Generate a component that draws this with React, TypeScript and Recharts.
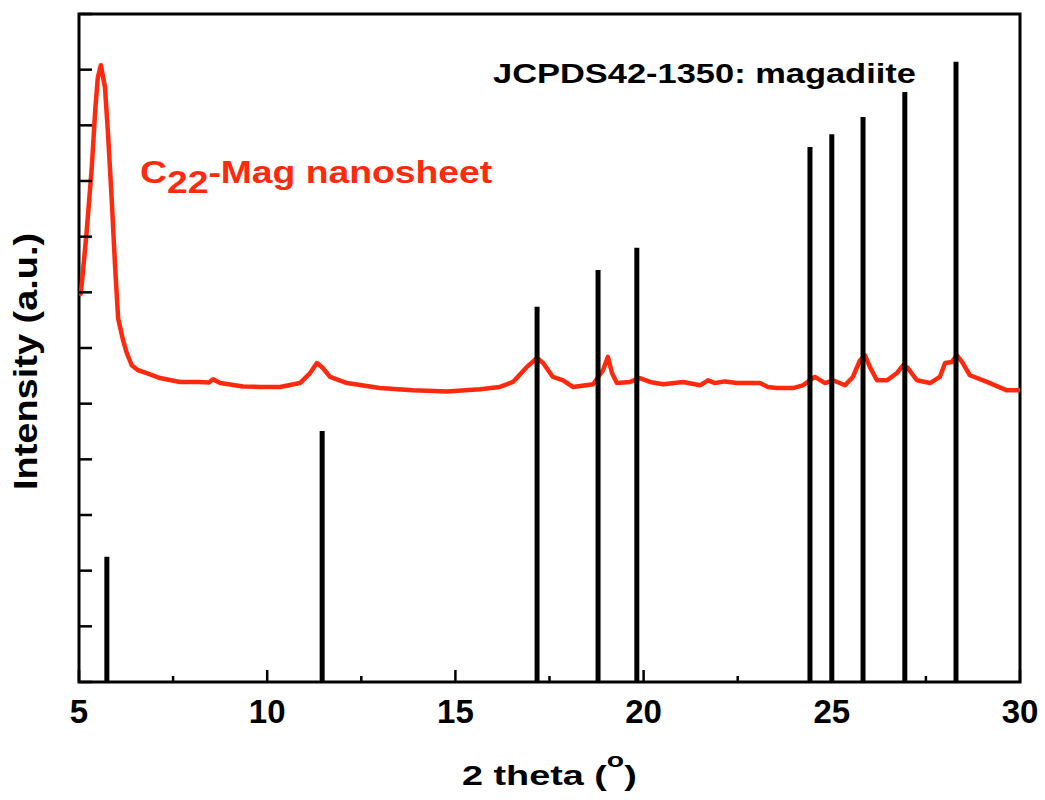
import React from 'react';
import { ComposedChart, Line, XAxis, YAxis, ReferenceLine, ReferenceArea } from 'recharts';

// Red XRD pattern (C22-Mag nanosheet)
const redX = [5.0, 5.05, 5.20, 5.34, 5.43, 5.50, 5.58, 5.69, 5.77, 5.87, 5.96, 6.04, 6.17, 6.27, 6.40, 6.57, 6.80, 7.15, 7.68, 8.21, 8.45, 8.56, 8.75, 9.36, 9.81, 10.34, 10.87, 11.14, 11.32, 11.48, 11.67, 12.12, 12.99, 13.87, 14.78, 15.65, 16.18, 16.53, 16.90, 17.17, 17.33, 17.59, 17.86, 18.12, 18.66, 18.92, 19.05, 19.16, 19.29, 19.64, 19.90, 20.17, 20.52, 21.05, 21.5, 21.71, 21.90, 22.16, 22.48, 23.09, 23.30, 23.54, 23.97, 24.23, 24.42, 24.55, 24.82, 25.03, 25.35, 25.56, 25.75, 25.88, 26.01, 26.20, 26.47, 26.73, 26.89, 27.02, 27.26, 27.61, 27.87, 28.01, 28.19, 28.32, 28.46, 28.67, 29.12, 29.65, 29.95, 30.0];
const redY = [6.95, 6.98, 8.06, 9.25, 10.27, 10.86, 11.08, 10.68, 9.86, 8.65, 7.45, 6.53, 6.14, 5.91, 5.69, 5.60, 5.55, 5.46, 5.39, 5.39, 5.38, 5.44, 5.37, 5.31, 5.30, 5.30, 5.37, 5.55, 5.73, 5.64, 5.48, 5.37, 5.28, 5.24, 5.22, 5.26, 5.30, 5.39, 5.66, 5.82, 5.73, 5.48, 5.42, 5.30, 5.35, 5.60, 5.84, 5.55, 5.37, 5.39, 5.46, 5.39, 5.35, 5.39, 5.33, 5.42, 5.37, 5.40, 5.37, 5.37, 5.30, 5.28, 5.28, 5.33, 5.42, 5.48, 5.37, 5.42, 5.33, 5.48, 5.78, 5.87, 5.66, 5.42, 5.42, 5.55, 5.69, 5.64, 5.42, 5.37, 5.48, 5.73, 5.75, 5.87, 5.75, 5.51, 5.39, 5.24, 5.24, 5.24];

// JCPDS 42-1350 magadiite reference sticks
const stickX = [5.74, 11.46, 17.17, 18.79, 19.82, 24.42, 25.0, 25.83, 26.94, 28.30];
const stickY = [2.25, 4.51, 6.74, 7.40, 7.80, 9.61, 9.84, 10.15, 10.60, 11.14];

const xTicks = [5, 7.5, 10, 12.5, 15, 17.5, 20, 22.5, 25, 27.5, 30];
const xLabelTicks = [5, 10, 15, 20, 25, 30];
const yTicks = [0, 1, 2, 3, 4, 5, 6, 7, 8, 9, 10, 11, 12];

const redData = redX.map((x, i) => ({ x, y: redY[i] }));

const RED = '#FF2A0E';
const FONT = '"Liberation Sans", Arial, sans-serif';

const XTick = (props: any) => {
  const { x, y, payload } = props;
  const major = xLabelTicks.includes(payload.value);
  return (
    <g>
      <line x1={x} x2={x} y1={y} y2={y - (major ? 12 : 6)} stroke="#000" strokeWidth={2.5} />
      {major && (
        <text x={x} y={y + 41} textAnchor="middle" fontSize={33} fontWeight="bold" fontFamily={FONT} fill="#000">
          {payload.value}
        </text>
      )}
    </g>
  );
};

const YTick = (props: any) => {
  const { x, y } = props;
  return <line x1={x} x2={x + 13} y1={y} y2={y} stroke="#000" strokeWidth={2.5} />;
};

export default function App() {
  return (
    <div style={{ position: 'absolute', left: 0, top: 0, width: 1045, height: 800, background: '#fff' }}>
      <ComposedChart width={1045} height={800} margin={{ top: 14, right: 25, left: 19, bottom: 58 }}>
        <XAxis
          dataKey="x"
          type="number"
          domain={[5, 30]}
          ticks={xTicks}
          allowDataOverflow
          axisLine={false}
          tickLine={false}
          tickSize={0}
          tickMargin={0}
          height={60}
          interval={0}
          tick={<XTick />}
        />
        <YAxis
          type="number"
          domain={[0, 12]}
          ticks={yTicks}
          allowDataOverflow
          axisLine={false}
          tickLine={false}
          tickSize={0}
          tickMargin={0}
          width={60}
          interval={0}
          tick={<YTick />}
        />
        <Line
          data={redData}
          dataKey="y"
          type="linear"
          stroke={RED}
          strokeWidth={4.5}
          strokeLinejoin="round"
          dot={false}
          activeDot={false}
          isAnimationActive={false}
        />
        {stickX.map((sx, i) => (
          <ReferenceLine
            key={sx}
            segment={[{ x: sx, y: 0 }, { x: sx, y: stickY[i] }]}
            stroke="#000"
            strokeWidth={5}
            ifOverflow="visible"
          />
        ))}
        <ReferenceArea x1={5} x2={30} y1={0} y2={12} fill="none" fillOpacity={0} stroke="#000" strokeWidth={3} ifOverflow="visible" />
        <text transform="translate(140,183) scale(1.165,1)" fontSize={32} fontWeight="bold" fontFamily={FONT} fill={RED}>
          <tspan>C</tspan>
          <tspan dy={10}>22</tspan>
          <tspan dy={-10}>-Mag nanosheet</tspan>
        </text>
        <text transform="translate(493,83) scale(1.23,1)" fontSize={28} fontWeight="bold" fontFamily={FONT} fill="#000">
          JCPDS42-1350: magadiite
        </text>
        <text transform="translate(462,785) scale(1.35,1)" fontSize={28} fontWeight="bold" fontFamily={FONT} fill="#000">
          <tspan>2 theta (</tspan>
          <tspan dy={-18} fontSize={21}>o</tspan>
          <tspan dy={18}>)</tspan>
        </text>
        <text transform="translate(37,490) rotate(-90) scale(1.15,1)" fontSize={33} fontWeight="bold" fontFamily={FONT} fill="#000">
          Intensity (a.u.)
        </text>
      </ComposedChart>
    </div>
  );
}
